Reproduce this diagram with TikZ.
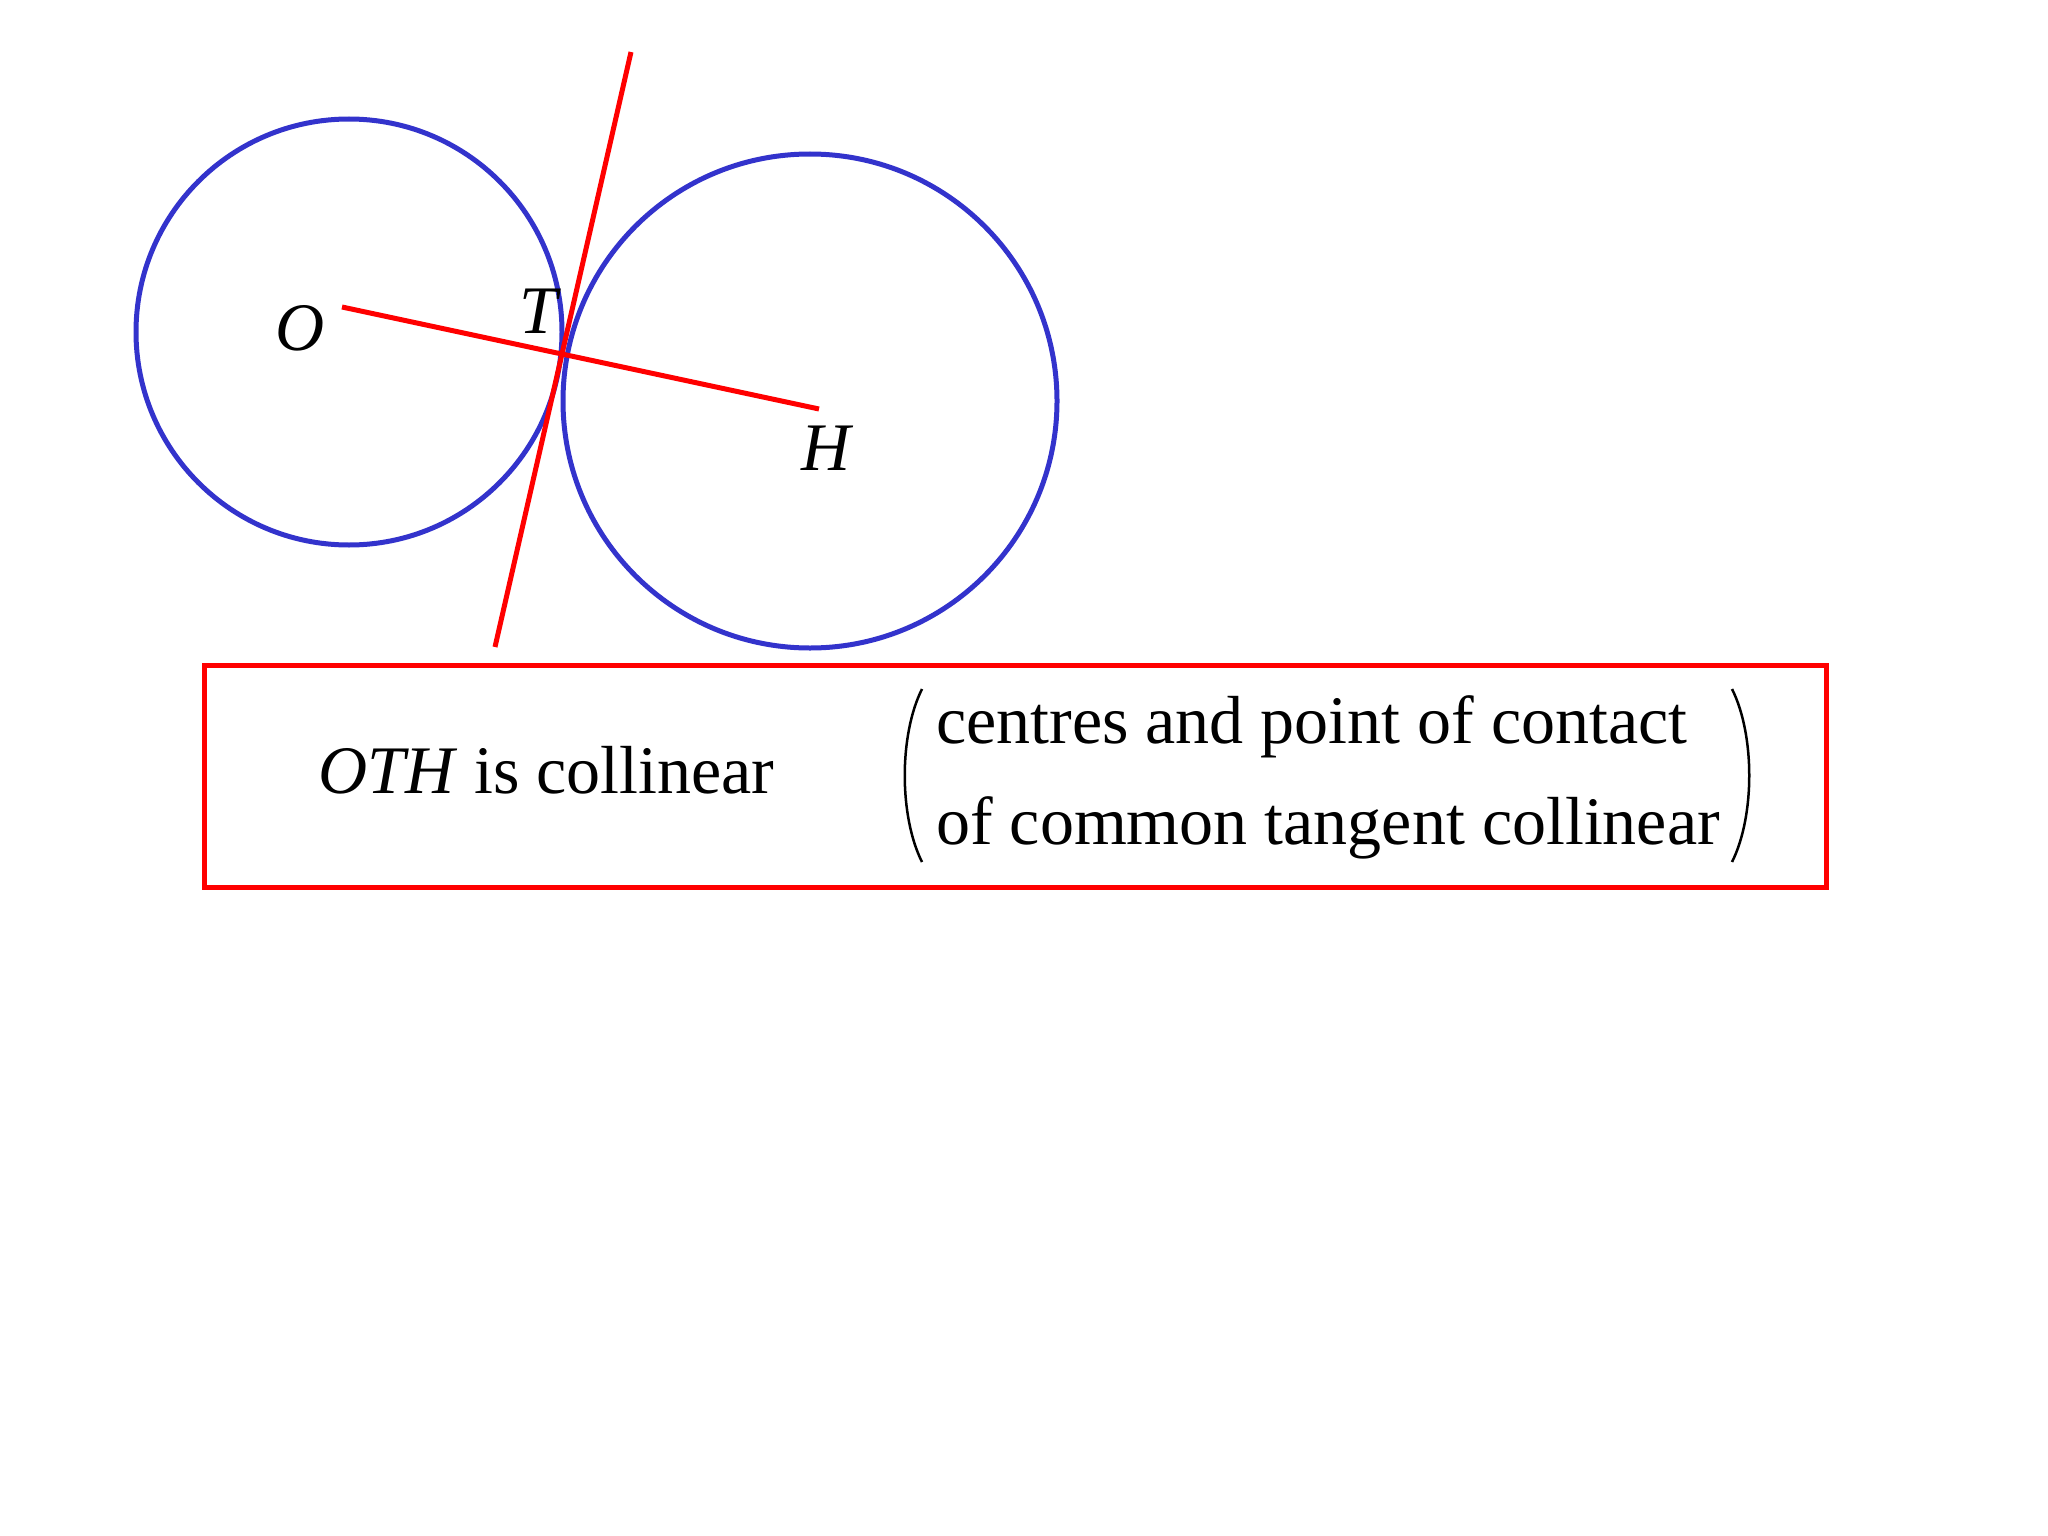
\documentclass[tikz,border=0pt]{standalone}
\usepackage{fontspec}
\setmainfont{Liberation Serif}
\definecolor{cblue}{RGB}{51,51,204}
\definecolor{cred}{RGB}{255,0,0}
\tikzset{
  circ/.style={draw=cblue, line width=5pt},
  redline/.style={draw=cred, line width=5pt},
  lbl/.style={inner sep=0pt, anchor=base, font=\fontsize{68}{80}\selectfont\itshape},
  txt/.style={inner sep=0pt, anchor=base west, font=\fontsize{68}{80}\selectfont},
  paren/.style={draw=black, line width=2.5pt}
}
\begin{document}
\begin{tikzpicture}[x=1pt,y=-1pt]
\useasboundingbox[fill=white] (0,0) rectangle (2048,1536);
% circles
\coordinate (Oc) at (349,332);
\coordinate (Hc) at (810,401);
\draw[circ] (Oc) circle[radius=213];
\draw[circ] (Hc) circle[radius=247];
% lines
\coordinate (tanA) at (631,52);
\coordinate (tanB) at (495,647);
\coordinate (oEnd) at (342,307);
\coordinate (hEnd) at (819,409);
\draw[redline] (tanA) -- (tanB);
\draw[redline] (oEnd) -- (hEnd);
% labels
\node[lbl] (Ol) at (300,350) {O};
\node[lbl] (Tl) at (538,333) {T};
\node[lbl] (Hl) at (826,470) {H};
% box
\node[draw=cred, line width=5pt, minimum width=1622pt, minimum height=222pt, inner sep=0pt, anchor=north west] (box) at (201.5,662.5) {};
\node[txt] (t1) at (318,793) {\textit{OTH} is collinear};
\node[txt] (t2) at (936,743) {centres and point of contact};
\node[txt] (t3) at (936,844) {of common tangent collinear};
% parentheses
\coordinate (lpA) at (922,689);
\coordinate (lpB) at (922,862);
\coordinate (rpA) at (1732,689);
\coordinate (rpB) at (1732,862);
\draw[paren] (lpA) .. controls (899,735) and (899,816) .. (lpB);
\draw[paren] (rpA) .. controls (1755,735) and (1755,816) .. (rpB);
\end{tikzpicture}
\end{document}
